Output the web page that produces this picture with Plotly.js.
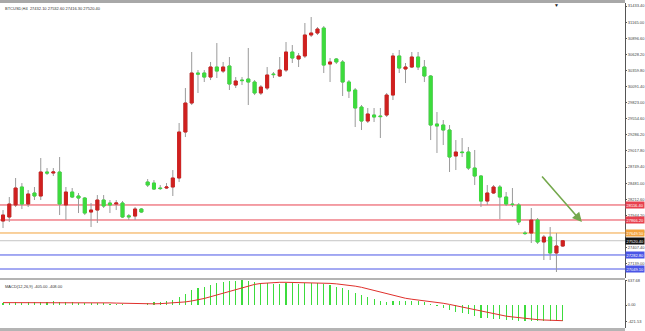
<!DOCTYPE html>
<html>
<head>
<meta charset="utf-8">
<script src="https://cdn.plot.ly/plotly-3.0.1.min.js"></script>
<style>
  html, body { margin: 0; padding: 0; background: #fff; }
  #chart { width: 645px; height: 331px; }
</style>
</head>
<body>
<div id="chart"></div>
<script>
// BTCUSD H4 candles (red = rising bar, green = falling bar, MetaTrader style)
const open = [27849,27916,28116,28416,28132,28316,28266,28666,28649,28666,
  28116,28332,28266,28232,27999,28032,28199,28149,28132,28149,
  27935,27932,28049,28499,28482,28399,28399,28416,28566,29333,
  29816,30316,30316,30249,30416,30349,30433,30116,30199,30216,
  30166,29983,30066,30299,30266,30366,30666,30550,30600,30950,
  30983,31066,30466,30550,30500,30166,30033,29749,29516,29616,
  29599,29616,29949,30600,30383,30416,30583,30416,30266,29466,
  29449,29366,28933,28999,28999,28732,28599,28182,28316,28416,
  28249,28132,28116,27649,27649,27866,27499,27582,27316,27432.1];
const high = [28032,28249,28566,28482,28366,28416,28899,28732,28732,28916,
  28416,28399,28316,28249,28149,28282,28282,28199,28199,28182,
  27966,28082,28066,28549,28532,28449,28482,28699,29483,30066,
  30666,30366,30366,30500,30816,30500,30583,30249,30249,30733,
  30199,30116,30416,30333,30583,30833,30783,30650,31150,31250,
  31083,31100,30566,30566,30533,30199,30066,29783,29733,29733,
  29733,29983,30650,30700,30483,30666,30666,30533,30283,29666,
  29533,29449,29199,29233,29083,29033,28616,28449,28449,28449,
  28332,28399,28149,27682,28066,27899,27616,27749,27649,27532.6];
const low = [27732,27832,28082,28049,28082,28199,28199,28616,28599,27949,
  27866,28232,27982,27949,27749,27816,28066,27982,28032,27899,
  27866,27866,27982,28416,28366,28366,28382,28266,28499,29249,
  29783,29983,30166,30199,30233,30316,30033,30066,30116,29783,
  29949,29949,30033,30233,30249,30333,30483,30416,30566,30916,
  30950,30316,30166,30466,29933,29899,29416,29366,29483,29499,
  29233,29583,29866,30316,30149,30399,30366,30166,29199,28983,
  29116,28666,28699,28916,28699,28449,28082,28116,28299,27882,
  28099,28082,27782,27616,27482,27466,27199,27199,26999,27416.3];
const close = [27949,28132,28399,28132,28299,28266,28666,28649,28666,28132,
  28332,28249,28232,27982,28032,28199,28099,28116,28149,27916,
  27920,28049,27999,28449,28382,28390,28416,28566,29333,29816,
  30316,30299,30249,30416,30349,30416,30133,30183,30190,30166,
  29983,30083,30283,30290,30366,30666,30566,30600,30950,30983,
  31050,30449,30500,30500,30166,30016,29733,29516,29633,29583,
  29590,29949,30600,30399,30416,30583,30416,30266,29449,29433,
  29366,28916,28999,28990,28732,28599,28182,28316,28416,28249,
  28132,28124,27832,27640,27866,27499,27582,27316,27432,27520.4];

// MACD(12,26,9): main histogram and signal line
const macdMain = [50,55,70,65,70,68,85,90,92,70,
  72,66,55,45,42,45,40,35,30,15,
  5,5,0,40,70,90,105,140,200,290,
  380,430,470,520,570,600,620,630,637.68,625,
  600,575,560,550,545,560,560,550,565,580,
  585,545,510,480,430,380,310,250,200,150,
  110,90,100,100,95,100,95,80,20,-30,
  -70,-130,-170,-200,-240,-280,-330,-350,-360,-375,
  -390,-395,-410,-415,-410,-418,-421.53,-420,-418,-405];
const macdSignal = [62,62,63,63,64,65,66,68,70,71,
  72,72,70,68,66,63,59,55,50,45,
  40,35,30,28,30,35,42,50,62,80,
  105,135,170,215,260,310,360,410,460,500,
  535,560,575,585,590,590,588,585,580,578,
  575,570,562,550,535,515,490,460,420,380,
  335,290,250,210,175,150,130,115,95,70,
  45,15,-20,-55,-90,-125,-165,-200,-235,-265,
  -290,-310,-330,-350,-365,-380,-390,-398,-404,-408];

// Horizontal price levels
const levelPrices = [28116.40, 27866.20, 27649.50, 27520.40, 27282.80, 27049.10];
const levelColors = ['#e8404e', '#e8404e', '#f2a23c', '#c4c4c4', '#4a55e6', '#4a55e6'];
const levelLabelBg = ['#e8404e', '#e8404e', '#f2a23c', '#111111', '#4a55e6', '#4a55e6'];

// Trend arrow: tail and head (bar index, price)
const arrowTail = [85.5, 28616];
const arrowHead = [92.05, 27832];

const xs = open.map((_, i) => i);
const bodyTop = open.map((o, i) => Math.max(o, close[i]));
const bodyBot = open.map((o, i) => Math.min(o, close[i]));

const RED = '#d0201f';
const GREEN = '#3cdc3c';
const FONT = 'Liberation Sans, Arial, sans-serif';

const traces = [
  // wicks (grey)
  {
    type: 'candlestick', x: xs, open: open, high: high, low: low, close: close,
    increasing: { line: { color: '#9a9a9a', width: 1 }, fillcolor: '#9a9a9a' },
    decreasing: { line: { color: '#9a9a9a', width: 1 }, fillcolor: '#9a9a9a' },
    whiskerwidth: 0, hoverinfo: 'skip', xaxis: 'x', yaxis: 'y'
  },
  // coloured bodies
  {
    type: 'candlestick', x: xs, open: open, high: bodyTop, low: bodyBot, close: close,
    increasing: { line: { color: RED, width: 1 }, fillcolor: RED },
    decreasing: { line: { color: GREEN, width: 1 }, fillcolor: GREEN },
    whiskerwidth: 0, hoverinfo: 'skip', xaxis: 'x', yaxis: 'y'
  },
  {
    type: 'bar', x: xs, y: macdMain, width: 0.18,
    marker: { color: GREEN, line: { width: 0 } },
    hoverinfo: 'skip', xaxis: 'x2', yaxis: 'y2'
  },
  {
    type: 'scatter', mode: 'lines', x: xs, y: macdSignal,
    line: { color: '#e0302c', width: 1 },
    hoverinfo: 'skip', xaxis: 'x2', yaxis: 'y2'
  }
];

const H = 331;
const shapes = [
  // pane frames
  { type: 'rect', xref: 'paper', yref: 'paper', x0: 0, x1: 1, y0: 1 - 3 / H, y1: 1, fillcolor: '#a8a8a8', line: { width: 0 } },
  { type: 'rect', xref: 'paper', yref: 'paper', x0: 0, x1: 1, y0: 1 - 280 / H, y1: 1 - 278 / H, fillcolor: '#b4b4b4', line: { width: 0 } },
  { type: 'rect', xref: 'paper', yref: 'paper', x0: 0, x1: 1, y0: 0, y1: 3 / H, fillcolor: '#b4b4b4', line: { width: 0 } }
];
levelPrices.forEach((p, k) => {
  shapes.push({
    type: 'line', xref: 'paper', yref: 'y', x0: 0, x1: 1, y0: p, y1: p,
    line: { color: levelColors[k], width: 1 }, layer: 'below'
  });
});

const annotations = [
  {
    xref: 'paper', yref: 'paper', x: 0.004, y: 1 - 4 / H, xanchor: 'left', yanchor: 'top',
    text: 'BTCUSD,H4  27432.10 27532.60 27416.30 27520.40', showarrow: false,
    font: { family: FONT, size: 4, color: '#333' }
  },
  {
    xref: 'paper', yref: 'paper', x: 0.004, y: 1 - 282 / H, xanchor: 'left', yanchor: 'top',
    text: 'MACD(12,26,9) -405.00 -408.00', showarrow: false,
    font: { family: FONT, size: 4, color: '#333' }
  },
  {
    xref: 'paper', yref: 'paper', x: 556 / 625, y: 1, xanchor: 'center', yanchor: 'top',
    text: '▼', showarrow: false, font: { family: FONT, size: 5, color: '#222' }
  },
  {
    x: arrowHead[0], y: arrowHead[1], ax: arrowTail[0], ay: arrowTail[1],
    xref: 'x', yref: 'y', axref: 'x', ayref: 'y', text: '', showarrow: true,
    arrowhead: 2, arrowsize: 1.2, arrowwidth: 1.6, arrowcolor: '#74a84c', standoff: 0
  }
];
levelPrices.forEach((p, k) => {
  annotations.push({
    xref: 'paper', yref: 'y', x: 1, y: p, xanchor: 'left', yanchor: 'middle',
    text: p.toFixed(2), showarrow: false, bgcolor: levelLabelBg[k], borderpad: 0.5,
    font: { family: FONT, size: 4, color: '#ffffff' }
  });
});

const tickFont = { family: FONT, size: 4, color: '#444' };
const layout = {
  width: 645, height: 331,
  margin: { l: 0, r: 20, t: 0, b: 0, pad: 0 },
  paper_bgcolor: '#ffffff', plot_bgcolor: '#ffffff',
  showlegend: false, boxgap: 0.32, bargap: 0,
  xaxis: { domain: [0, 1], range: [-0.48, 98.9], visible: false, rangeslider: { visible: false }, anchor: 'y', fixedrange: true },
  yaxis: {
    domain: [1 - 278 / H, 1 - 3 / H], range: [26899.1, 31483.4], side: 'right',
    tick0: 31433.4, dtick: 268.4, tickformat: '.2f', ticks: 'outside', ticklen: 1,
    tickcolor: '#555', tickfont: tickFont, showgrid: false, zeroline: false,
    showline: true, linecolor: '#555', linewidth: 1, anchor: 'x', automargin: false
  },
  xaxis2: { domain: [0, 1], range: [-0.48, 98.9], visible: false, anchor: 'y2', matches: 'x' },
  yaxis2: {
    domain: [3 / H, 1 - 280 / H], range: [-598, 650], side: 'right',
    tickvals: [637.68, 0, -421.53], ticktext: ['637.68', '0.00', '-421.53'],
    ticks: 'outside', ticklen: 1, tickcolor: '#555', tickfont: tickFont,
    showgrid: false, zeroline: false, showline: true, linecolor: '#555', linewidth: 1,
    anchor: 'x2', automargin: false
  },
  shapes: shapes,
  annotations: annotations
};

Plotly.newPlot('chart', traces, layout, { staticPlot: true, displayModeBar: false });
</script>
</body>
</html>
